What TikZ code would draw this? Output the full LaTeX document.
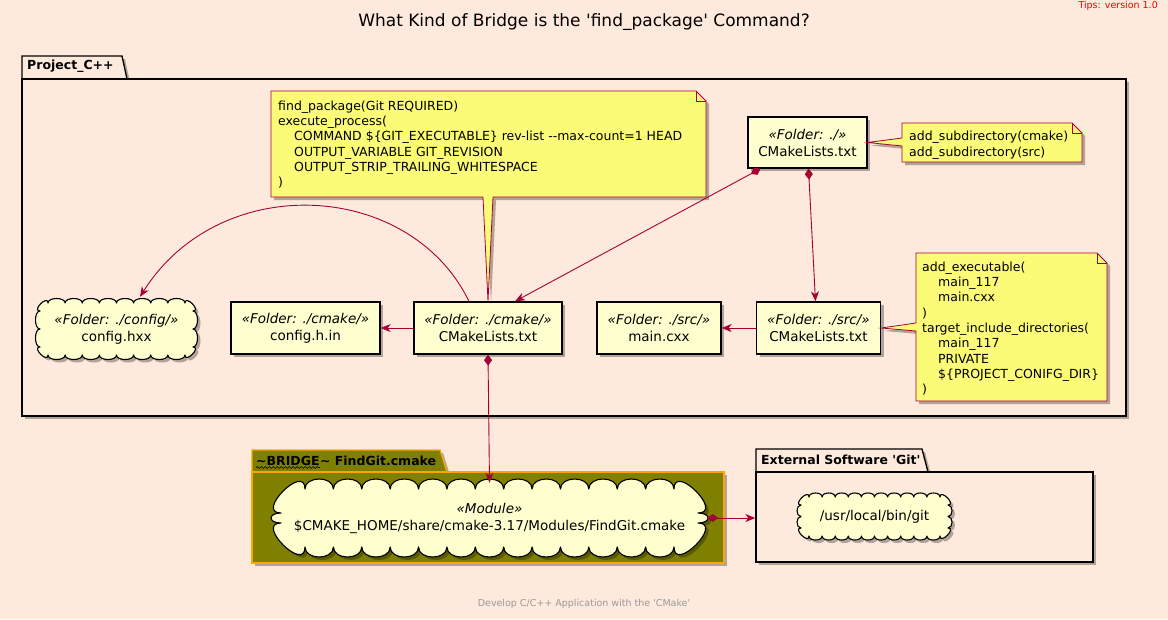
\documentclass[tikz,border=0pt]{standalone}
\usepackage{fontspec}
\setmainfont{DejaVu Sans}
\usetikzlibrary{arrows.meta,shadows,decorations.pathmorphing,calc}
\definecolor{bg}{HTML}{FEEADC}
\definecolor{nodefill}{HTML}{FEFECE}
\definecolor{notefill}{HTML}{FBFB77}
\definecolor{plred}{HTML}{A80036}
\definecolor{olivefill}{HTML}{808000}
\definecolor{pkgorange}{HTML}{FFA500}
\newcommand\stereo[1]{\textit{«#1»}}
\newcommand\ind{\hspace*{16pt}}
% cloud outline: x1 y1 x2 y2 (inner rectangle), bumps across, bumps down, bump height, corner size
\newcommand\cloudshape[8]{%
  \pgfmathsetmacro\cw{(#3-#1-2*#8)/#5}%
  \pgfmathsetmacro\chh{(#4-#2-2*#8)/#6}%
  \pgfmathsetmacro\ck{#7*4/3}%
  \pgfmathsetmacro\cc{#8*1.1}%
  \path[cloudline] (#1+#8,#2)
    \foreach \i in {1,...,#5} { .. controls +(0,-\ck) and +(0,-\ck) .. ++(\cw,0) }
    .. controls +(0,-\cc) and +(\cc,0) .. ++(#8,#8)
    \foreach \i in {1,...,#6} { .. controls +(\ck,0) and +(\ck,0) .. ++(0,\chh) }
    .. controls +(\cc,0) and +(0,\cc) .. ++(-#8,#8)
    \foreach \i in {1,...,#5} { .. controls +(0,\ck) and +(0,\ck) .. ++(-\cw,0) }
    .. controls +(0,\cc) and +(-\cc,0) .. ++(-#8,-#8)
    \foreach \i in {1,...,#6} { .. controls +(-\ck,0) and +(-\ck,0) .. ++(0,-\chh) }
    .. controls +(-\cc,0) and +(0,-\cc) .. ++(#8,-#8) -- cycle;
}
\begin{document}
\begin{tikzpicture}[x=1pt,y=-1pt,
  shadowed/.style={drop shadow={shadow xshift=3pt,shadow yshift=-3pt,opacity=0.3,fill=black}},
  box/.style={draw=black, line width=1.3pt, fill=nodefill, shadowed, align=center, inner sep=0pt,
    font=\fontsize{13.5}{17}\selectfont},
  cloudtext/.style={align=center, inner sep=0pt, font=\fontsize{13.5}{17}\selectfont},
  cloudline/.style={draw=black, line width=1.1pt, fill=nodefill, shadowed, line join=round},
  pkgbody/.style={draw=black, line width=1.3pt, fill=bg, shadowed, inner sep=0pt},
  pkgtab/.style={draw=black, line width=1.3pt, fill=bg, shadowed},
  tablabel/.style={font=\bfseries\fontsize{12.5}{15}\selectfont, inner sep=0pt},
  notebody/.style={draw=plred, line width=0.8pt, fill=notefill, shadowed},
  notefold/.style={draw=plred, line width=0.8pt},
  notetext/.style={align=left, inner sep=0pt, anchor=north west, font=\fontsize{12.5}{15.3}\selectfont},
  edge/.style={draw=plred, line width=0.9pt},
  head/.style={-{Stealth[length=10pt,width=8pt,inset=3pt]}},
  dhead/.style={{Diamond[length=11pt,width=8pt]}-{Stealth[length=10pt,width=8pt,inset=3pt]}},
]
\useasboundingbox (0,0) rectangle (1168,619);
\fill[bg] (0,0) rectangle (1168,619);

% title, tips, footer
\node[font=\fontsize{17}{20}\selectfont, inner sep=0pt] (title) at (584,22)
  {What Kind of Bridge is the \textquotesingle find\_package\textquotesingle\ Command?};
\node[font=\fontsize{9.5}{11}\selectfont, text=red, inner sep=0pt, anchor=east] (tips) at (1158,6) {Tips: version 1.0};
\node[font=\fontsize{9.5}{11}\selectfont, text=black!40, inner sep=0pt] (footer) at (584,604)
  {Develop C/C++ Application with the \textquotesingle CMake\textquotesingle};

% package Project_C++
\draw[pkgtab] (22,79) -- (22,56) -- (122,56) -- (127,79) -- cycle;
\node[pkgbody, minimum width=1104, minimum height=337] (proj) at (574,247.5) {};
\node[tablabel, anchor=west] (projlabel) at (27,66) {Project\_C++};

% package BRIDGE
\draw[pkgtab, fill=olivefill, draw=pkgorange] (252,472) -- (252,450) -- (440,450) -- (447,472) -- cycle;
\node[pkgbody, fill=olivefill, draw=pkgorange, minimum width=472, minimum height=91] (bridge) at (488,517.5) {};
\node[tablabel, anchor=base west] (bw) at (256,465) {\textasciitilde BRIDGE};
\node[tablabel, anchor=base west] (bw2) at (bw.base east) {\textasciitilde\ FindGit.cmake};
\draw[line width=0.6pt, decorate, decoration={snake, segment length=4pt, amplitude=0.9pt}]
  ([yshift=-2.5pt]bw.base west) -- ([yshift=-2.5pt]bw.base east);

% package External
\draw[pkgtab] (756,472) -- (756,449) -- (922,449) -- (928,472) -- cycle;
\node[pkgbody, minimum width=337, minimum height=90] (ext) at (924.5,517) {};
\node[tablabel, anchor=west] (extlabel) at (761,460) {External Software \textquotesingle Git\textquotesingle};

% box nodes
\node[box, minimum width=119, minimum height=51] (root) at (807.5,142.5) {\stereo{Folder: ./}\\CMakeLists.txt};
\node[box, minimum width=148, minimum height=52] (cmkcm) at (488,328) {\stereo{Folder: ./cmake/}\\CMakeLists.txt};
\node[box, minimum width=149, minimum height=52] (cfgin) at (305.5,328) {\stereo{Folder: ./cmake/}\\config.h.in};
\node[box, minimum width=124, minimum height=52] (maincxx) at (659,328) {\stereo{Folder: ./src/}\\main.cxx};
\node[box, minimum width=124, minimum height=52] (srccm) at (818.5,328) {\stereo{Folder: ./src/}\\CMakeLists.txt};

% cloud nodes
\cloudshape{40}{303}{193}{355}{8}{2}{4.5}{8}
\node[cloudtext, minimum width=153, minimum height=52] (cfghxx) at (116.5,329)
  {\stereo{Folder: ./config/}\\config.hxx};
\cloudshape{281}{489}{698}{547}{13}{1}{10}{24}
\node[cloudtext, minimum width=417, minimum height=58] (findgit) at (489.5,518)
  {\stereo{Module}\\\$CMAKE\_HOME/share/cmake-3.17/Modules/FindGit.cmake};
\cloudshape{801}{497}{948}{536}{10}{2}{4}{8}
\node[cloudtext, minimum width=147, minimum height=39] (git) at (874.5,516.5)
  {/usr/local/bin/git};

% notes
\path[notebody] (271,91) -- (696,91) -- (706,101) -- (706,197) -- (493,197) -- (cmkcm.north) -- (483,197) -- (271,197) -- cycle;
\draw[notefold] (696,91) -- (696,101) -- (706,101);
\node[notetext] (n1) at (278,100.5) {find\_package(Git REQUIRED)\\
execute\_process(\\
\ind COMMAND \$\{GIT\_EXECUTABLE\} rev-list -\kern0pt-max-count=1 HEAD\\
\ind OUTPUT\_VARIABLE GIT\_REVISION\\
\ind OUTPUT\_STRIP\_TRAILING\_WHITESPACE\\
)};

\path[notebody] (902,123) -- (1072,123) -- (1082,133) -- (1082,162) -- (902,162) -- (902,146) -- (root.east) -- (902,138) -- cycle;
\draw[notefold] (1072,123) -- (1072,133) -- (1082,133);
\node[notetext] (n2) at (909,131) {add\_subdirectory(cmake)\\add\_subdirectory(src)};

\path[notebody] (916,253) -- (1097,253) -- (1107,263) -- (1107,401) -- (916,401) -- (916,331) -- (srccm.east) -- (916,323) -- cycle;
\draw[notefold] (1097,253) -- (1097,263) -- (1107,263);
\node[notetext] (n3) at (922,261.5) {add\_executable(\\
\ind main\_117\\
\ind main.cxx\\
)\\
target\_include\_directories(\\
\ind main\_117\\
\ind PRIVATE\\
\ind \$\{PROJECT\_CONIFG\_DIR\}\\
)};

% edges
\draw[edge, dhead] ([xshift=-47pt]root.south) -- ([xshift=27pt]cmkcm.north);
\draw[edge, dhead] ([xshift=1pt]root.south) -- ([xshift=-3pt]srccm.north);
\draw[edge, head] (cmkcm.west) -- (cfgin.east);
\draw[edge, head] (srccm.west) -- (maincxx.east);
\draw[edge, head] ([xshift=-19pt]cmkcm.north) .. controls (410,180) and (220,170) .. ([xshift=23.5pt,yshift=6pt]cfghxx.north);
\draw[edge, dhead] (cmkcm.south) -- ([yshift=6pt]findgit.north);
\draw[edge, dhead] ([xshift=9pt]findgit.east) -- (ext.west |- findgit.east);
\end{tikzpicture}
\end{document}
